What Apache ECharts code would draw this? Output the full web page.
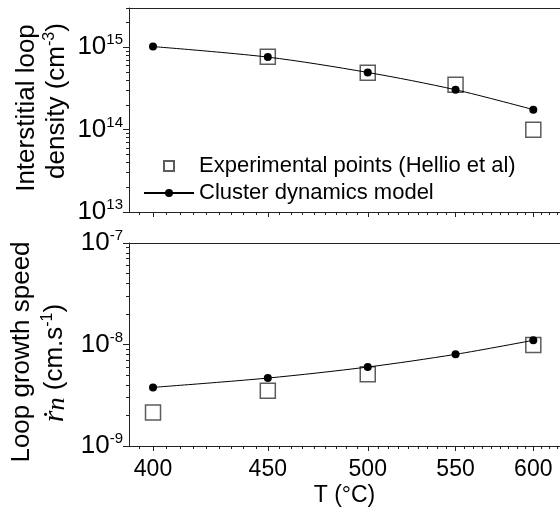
<!DOCTYPE html>
<html lang="en">
<head>
<meta charset="UTF-8" />
<title>Loop density and growth speed vs temperature</title>
<script src="https://cdn.jsdelivr.net/npm/echarts@6.0.0/dist/echarts.min.js"></script>
<style>
  html, body { margin: 0; padding: 0; background: #fff; }
  #chart { width: 560px; height: 512px; }
</style>
</head>
<body>
<div id="chart"></div>
<script>
  // (T in °C)
  const temps = [400, 450, 500, 550, 600];
  const modelDensity = [1.02e15, 7.6e14, 4.95e14, 3.05e14, 1.75e14];
  const expDensityTemps = [450, 500, 550, 600];
  const expDensity = [7.7e14, 4.9e14, 3.5e14, 1.0e14];
  const modelSpeed = [3.78e-9, 4.67e-9, 6.0e-9, 8.0e-9, 1.1e-8];
  const expSpeedTemps = [400, 450, 500, 600];
  const expSpeed = [2.14e-9, 3.51e-9, 5.1e-9, 9.9e-9];
  const tempTicks = [400, 450, 500, 550, 600];
  const densityDecades = [13, 14, 15];
  const speedDecades = [-9, -8, -7];

  const FONT = 'Liberation Sans, Arial, sans-serif';
  const T_LEFT = 390.4, T_RIGHT = 618.6;
  const DENS_MAX = Math.log10(3e15);

  // x is 1000/T(K) drawn reversed, so temperature grows to the right
  const inv = t => 1000 / (t + 273.15);
  const toT = u => Math.round(1000 / u - 273.15);
  const pts = (ts, vs) => ts.map((t, i) => [inv(t), Math.log10(vs[i])]);

  // minor T ticks: 8 between each labelled value
  const minorT = [];
  for (let k = -2; k <= 40; k++) {
    if (k % 9 === 0) continue;
    const t = 400 + k * 50 / 9;
    if (t > T_LEFT && t < T_RIGHT) minorT.push(inv(t));
  }
  function logMinor(lo, hi) {
    const out = [];
    for (let n = Math.floor(lo); n <= Math.ceil(hi); n++) {
      for (let k = 2; k <= 9; k++) {
        const v = n + Math.log10(k);
        if (v > lo && v <= hi + 1e-6) out.push(v);
      }
    }
    return out;
  }

  const axisColor = '#222';

  function xAxes(grid, withLabels) {
    const base = {
      gridIndex: grid, type: 'value', inverse: true,
      min: inv(T_RIGHT), max: inv(T_LEFT), splitLine: { show: false }
    };
    return [
      Object.assign({}, base, {
        position: 'bottom',
        axisLine: { lineStyle: { color: axisColor, width: 1 } },
        axisTick: { customValues: tempTicks.map(inv), length: 5, lineStyle: { color: axisColor } },
        axisLabel: {
          show: withLabels, customValues: tempTicks.map(inv), formatter: toT,
          fontSize: 23, fontFamily: FONT, color: '#000', margin: 12
        },
        name: withLabels ? 'T (°C)' : '',
        nameLocation: 'middle', nameGap: 38,
        nameTextStyle: { fontSize: 23, fontFamily: FONT, color: '#000' }
      }),
      Object.assign({}, base, {
        position: 'bottom',
        axisLine: { show: false },
        axisTick: { customValues: minorT, length: 3, lineStyle: { color: axisColor } },
        axisLabel: { show: false }
      }),
      Object.assign({}, base, {
        position: 'top',
        axisLine: { lineStyle: { color: axisColor, width: 1 } },
        axisTick: { show: false },
        axisLabel: { show: false }
      })
    ];
  }

  function yAxes(grid, lo, hi, decades) {
    const base = { gridIndex: grid, type: 'value', min: lo, max: hi, position: 'left', splitLine: { show: false } };
    return [
      Object.assign({}, base, {
        axisLine: { show: true, lineStyle: { color: axisColor, width: 1 } },
        axisTick: { show: true, customValues: decades, length: 6, lineStyle: { color: axisColor } },
        axisLabel: {
          customValues: decades, margin: 6,
          formatter: v => '{b|10}{s|' + Math.round(v) + '}',
          rich: {
            b: { fontSize: 26, fontFamily: FONT, color: '#000' },
            s: { fontSize: 15, fontFamily: FONT, color: '#000', padding: [0, 0, 14, 0] }
          }
        }
      }),
      Object.assign({}, base, {
        axisLine: { show: false },
        axisTick: { show: true, customValues: logMinor(lo, hi), length: 3, lineStyle: { color: axisColor } },
        axisLabel: { show: false }
      })
    ];
  }

  const expStyle = { color: 'rgba(0,0,0,0)', borderColor: '#333', borderWidth: 1.5 };
  const EXP = 'Experimental points (Hellio et al)';
  const MODEL = 'Cluster dynamics model';

  function rotText(x, y, text, extra) {
    return {
      type: 'text', x: x, y: y, rotation: Math.PI / 2,
      style: Object.assign({
        text: text, fontSize: 26, fontFamily: FONT, fill: '#000',
        align: 'center', verticalAlign: 'middle'
      }, extra || {})
    };
  }

  const chart = echarts.init(document.getElementById('chart'));
  chart.setOption({
    animation: false,
    backgroundColor: '#fff',
    grid: [
      { left: 129, right: 0, top: 8, height: 204, outerBoundsMode: 'none' },
      { left: 129, right: 0, top: 243, height: 203, outerBoundsMode: 'none' }
    ],
    xAxis: xAxes(0, false).concat(xAxes(1, true)),
    yAxis: yAxes(0, 13, DENS_MAX, densityDecades).concat(yAxes(1, -9, -7, speedDecades)),
    legend: {
      data: [{ name: EXP, icon: 'path://M0,0L10,0L10,10L0,10Z' }, { name: MODEL }],
      orient: 'vertical', left: 143, top: 155, symbolKeepAspect: true,
      itemWidth: 50, itemHeight: 10, itemGap: 5, padding: 0, selectedMode: false,
      textStyle: { fontSize: 22, fontFamily: FONT, color: '#000' }
    },
    series: [
      { name: EXP, type: 'scatter', xAxisIndex: 0, yAxisIndex: 0, symbol: 'rect', symbolSize: 15,
        itemStyle: expStyle, data: pts(expDensityTemps, expDensity), z: 2 },
      { name: MODEL, type: 'line', xAxisIndex: 0, yAxisIndex: 0, smooth: 0.3, symbol: 'circle', symbolSize: 8,
        itemStyle: { color: '#000' }, lineStyle: { color: '#000', width: 1 }, data: pts(temps, modelDensity), z: 3 },
      { name: EXP, type: 'scatter', xAxisIndex: 3, yAxisIndex: 2, symbol: 'rect', symbolSize: 15,
        itemStyle: expStyle, data: pts(expSpeedTemps, expSpeed), z: 2 },
      { name: MODEL, type: 'line', xAxisIndex: 3, yAxisIndex: 2, smooth: 0.3, symbol: 'circle', symbolSize: 8,
        itemStyle: { color: '#000' }, lineStyle: { color: '#000', width: 1 }, data: pts(temps, modelSpeed), z: 3 }
    ],
    graphic: [
      rotText(27, 108, 'Interstitial loop'),
      rotText(57, 101, '{t|density (cm}{s|-3}{t|)}', {
        rich: {
          t: { fontSize: 26, fontFamily: FONT, fill: '#000' },
          s: { fontSize: 16, fontFamily: FONT, fill: '#000', padding: [0, 0, 14, 0] }
        }
      }),
      rotText(22, 352, 'Loop growth speed'),
      rotText(55, 363, '{r|\u1E59}{n|n}{t| (cm.s}{s|-1}{t|)}', {
        rich: {
          r: { fontSize: 30, fontFamily: 'Liberation Serif, DejaVu Serif, serif', fontStyle: 'italic', fill: '#000' },
          n: { fontSize: 26, fontFamily: 'Liberation Serif, DejaVu Serif, serif', fontStyle: 'italic', fill: '#000', padding: [4, 0, 0, 0] },
          t: { fontSize: 26, fontFamily: FONT, fill: '#000' },
          s: { fontSize: 16, fontFamily: FONT, fill: '#000', padding: [0, 0, 14, 0] }
        }
      })
    ]
  });
</script>
</body>
</html>
